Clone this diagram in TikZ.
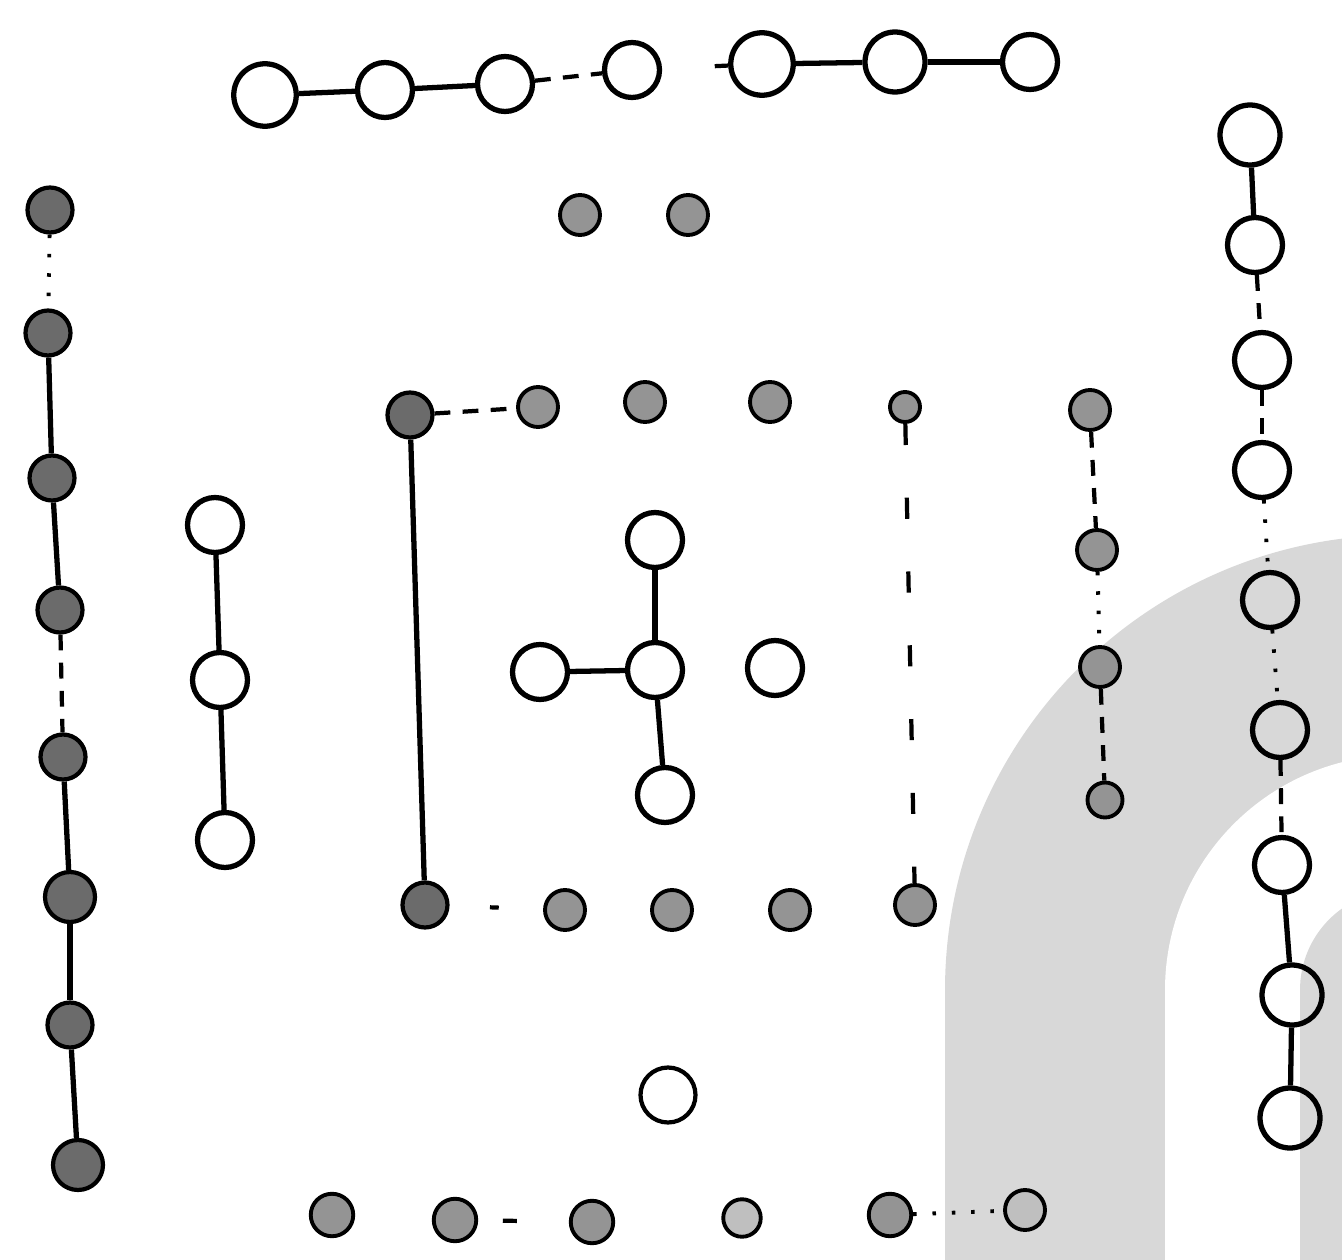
\documentclass[tikz,border=0pt]{standalone}
\usepackage{tikz}

\definecolor{archgray}{RGB}{216,216,216}

\begin{document}
\begin{tikzpicture}[x=0.02cm,y=-0.02cm,
    dot/.style={circle,draw=black,line width=2.4pt,fill=black!58,minimum size=0.9cm,inner sep=0pt},
    pale/.style={circle,draw=black,line width=2.2pt,fill=black!42,minimum size=0.8cm,inner sep=0pt},
    ring/.style={circle,draw=black,line width=3pt,minimum size=1.1cm,inner sep=0pt},
    link/.style={line width=3pt},
    dlink/.style={line width=2.4pt,dash pattern=on 9pt off 7pt},
    olink/.style={line width=2.2pt,dash pattern=on 2pt off 9pt},
    onedash/.style={line width=2.4pt,dash pattern=on #1pt off 80pt}]
            \useasboundingbox (0,0) rectangle (1342,1260);
            % background arch
            \begin{scope}
              \clip (0,0) rectangle (1342,1260);
              \fill[archgray] (945,1260) -- (945,990) arc[start angle=180,end angle=360,radius=455] -- (1855,1260) -- cycle;
              \fill[white] (1165,1260) -- (1165,990) arc[start angle=180,end angle=360,radius=235] -- (1635,1260) -- cycle;
              \fill[archgray] (1300,1260) -- (1300,990) arc[start angle=180,end angle=360,radius=100] -- (1500,1260) -- cycle;
            \end{scope}
            % top row
            \node[ring,minimum size=1.25cm] (t1) at (265,95) {};
            \node[ring] (t2) at (385,90) {};
            \node[ring] (t3) at (505,84) {};
            \node[ring] (t4) at (632,70) {};
            \node[ring,minimum size=1.25cm] (t5) at (762,64) {};
            \node[ring,minimum size=1.2cm] (t6) at (895,62) {};
            \node[ring] (t7) at (1030,62) {};
            \draw[link] (t1) -- (t2);
            \draw[link] (t2) -- (t3);
            \draw[dlink] (t3) -- (t4);
            \draw[onedash=8,dash phase=58pt] (t4) -- (t5);
            \draw[link] (t5) -- (t6);
            \draw[link] (t6) -- (t7);
            % pair
            \node[pale] (d1) at (580,215) {};
            \node[pale] (d2) at (688,215) {};
            % left column
            \node[dot] (l1) at (50,210) {};
            \node[dot] (l2) at (48,333) {};
            \node[dot] (l3) at (52,478) {};
            \node[dot] (l4) at (60,610) {};
            \node[dot] (l5) at (63,757) {};
            \node[dot,minimum size=1cm] (l6) at (70,897) {};
            \node[dot] (l7) at (70,1025) {};
            \node[dot,minimum size=1cm] (l8) at (78,1165) {};
            \draw[olink] (l1) -- (l2);
            \draw[link] (l2) -- (l3);
            \draw[link] (l3) -- (l4);
            \draw[dlink] (l4) -- (l5);
            \draw[link] (l5) -- (l6);
            \draw[link] (l6) -- (l7);
            \draw[link] (l7) -- (l8);
            % left chain
            \node[ring] (c1) at (215,525) {};
            \node[ring] (c2) at (220,680) {};
            \node[ring] (c3) at (225,840) {};
            \draw[link] (c1) -- (c2);
            \draw[link] (c2) -- (c3);
            % frame
            \node[dot] (b1) at (410,415) {};
            \node[pale] (b2) at (538,407) {};
            \node[pale] (b3) at (645,402) {};
            \node[pale] (b4) at (770,402) {};
            \node[pale,minimum size=0.6cm] (b5) at (905,407) {};
            \node[pale] (b6) at (1090,410) {};
            \node[pale] (r2) at (1097,550) {};
            \node[pale] (r3) at (1100,667) {};
            \node[pale,minimum size=0.7cm] (r4) at (1105,800) {};
            \node[dot] (f1) at (425,905) {};
            \node[pale] (f2) at (565,910) {};
            \node[pale] (f3) at (672,910) {};
            \node[pale] (f4) at (790,910) {};
            \node[pale] (f5) at (915,905) {};
            \draw[dlink] (b1) -- (b2);
            \draw[link] (b1) -- (f1);
            \draw[dlink,dash pattern=on 12pt off 30pt] (b5) -- (f5);
            \draw[dlink] (b6) -- (r2);
            \draw[olink] (r2) -- (r3);
            \draw[dlink] (r3) -- (r4);
            \draw[onedash=5,dash phase=62pt] (f1) -- (f2);
            % cross
            \node[ring] (x0) at (655,670) {};
            \node[ring] (xn) at (655,540) {};
            \node[ring] (xw) at (540,672) {};
            \node[ring] (xe) at (775,668) {};
            \node[ring] (xs) at (665,795) {};
            \draw[link] (xn) -- (x0);
            \draw[link] (xw) -- (x0);
            \draw[link] (x0) -- (xs);
            \node[ring,line width=2.4pt] (s1) at (668,1095) {};
            % bottom row
            \node[pale,minimum size=0.85cm] (g1) at (332,1215) {};
            \node[pale,minimum size=0.85cm] (g2) at (455,1220) {};
            \node[pale,minimum size=0.85cm] (g3) at (592,1222) {};
            \node[pale,fill=black!25,minimum size=0.75cm] (g4) at (742,1218) {};
            \node[pale,minimum size=0.85cm] (g5) at (890,1215) {};
            \node[pale,fill=black!25,minimum size=0.8cm] (g6) at (1025,1210) {};
            \draw[onedash=8,dash phase=74pt] (g2) -- (g3);
            \draw[olink] (g5) -- (g6);
            % right column
            \node[ring,minimum size=1.2cm] (q1) at (1250,135) {};
            \node[ring] (q2) at (1255,245) {};
            \node[ring] (q3) at (1262,360) {};
            \node[ring] (q4) at (1262,470) {};
            \node[ring] (q5) at (1270,600) {};
            \node[ring] (q6) at (1280,730) {};
            \node[ring] (q7) at (1282,865) {};
            \node[ring,minimum size=1.2cm] (q8) at (1292,995) {};
            \node[ring,minimum size=1.2cm] (q9) at (1290,1118) {};
            \draw[link] (q1) -- (q2);
            \draw[dlink] (q2) -- (q3);
            \draw[dlink] (q3) -- (q4);
            \draw[olink] (q4) -- (q5);
            \draw[olink] (q5) -- (q6);
            \draw[dlink] (q6) -- (q7);
            \draw[link] (q7) -- (q8);
            \draw[link] (q8) -- (q9);
          \end{tikzpicture}
\end{document}
